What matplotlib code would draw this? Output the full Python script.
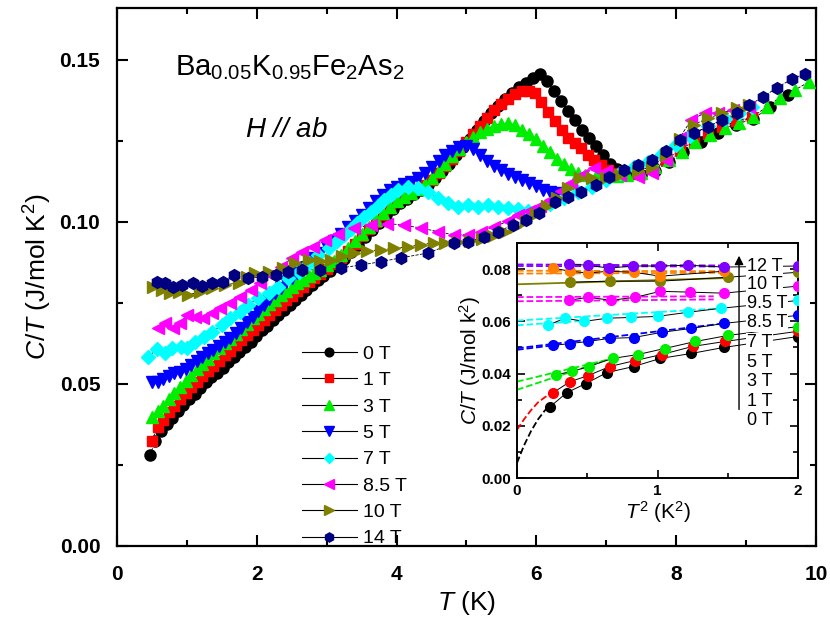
import matplotlib
matplotlib.use("Agg")
import matplotlib.pyplot as plt
from matplotlib.lines import Line2D
from matplotlib.ticker import MultipleLocator

plt.rcParams['font.family'] = ['Liberation Sans', 'DejaVu Sans']
plt.rcParams['mathtext.fontset'] = 'custom'
plt.rcParams['mathtext.rm'] = 'Liberation Sans'
plt.rcParams['mathtext.it'] = 'Liberation Sans:italic'
plt.rcParams['mathtext.bf'] = 'Liberation Sans:bold'

# ---------------- main panel data (T in K, C/T in J/mol K^2) ----------------
T_0 = [0.47,0.55,0.63,0.71,0.79,0.87,0.95,1.03,1.11,1.19,1.27,1.35,1.43,1.51,1.59,1.67,1.75,1.83,1.91,1.99,
       2.07,2.15,2.23,2.31,2.39,2.47,2.55,2.63,2.71,2.79,2.87,2.95,3.05,3.15,3.25,3.35,3.45,3.55,3.65,3.75,
       3.85,3.95,4.05,4.15,4.25,4.35,4.45,4.55,4.65,4.75,4.85,4.95,5.05,5.15,5.25,5.35,5.45,5.55,5.65,5.75,
       5.85,5.95,6.05,6.15,6.25,6.35,6.45,6.55,6.65,6.75,6.85,6.95,7.05,7.15,7.3,7.5,7.7,7.9,8.1,8.35,
       8.6,8.85,9.1,9.35,9.6]
C_0 = [0.028,0.0325,0.0355,0.0375,0.0395,0.0415,0.0435,0.0455,0.047,0.0488,0.0505,0.052,0.0535,0.055,0.0567,0.0583,0.0598,0.0614,0.063,0.0648,
       0.0665,0.068,0.0696,0.0712,0.0728,0.0744,0.076,0.0775,0.079,0.0805,0.082,0.0833,0.0848,0.0865,0.0885,0.0907,0.093,0.0952,0.0975,0.0998,
       0.102,0.104,0.1058,0.1072,0.1085,0.1098,0.1115,0.1135,0.1156,0.118,0.1205,0.123,0.1255,0.1283,0.131,0.1335,0.1358,0.1378,0.1397,0.1415,
       0.143,0.1443,0.1457,0.1435,0.1403,0.1372,0.1342,0.1313,0.1284,0.1258,0.1234,0.1205,0.118,0.1162,0.1148,0.1145,0.1158,0.1185,0.1215,0.1245,
       0.1275,0.130,0.1318,0.1355,0.139]

T_1 = [0.5,0.58,0.66,0.74,0.82,0.9,0.98,1.06,1.14,1.22,1.3,1.38,1.46,1.54,1.62,1.7,1.78,1.86,1.94,2.02,
       2.1,2.18,2.26,2.34,2.42,2.5,2.58,2.66,2.74,2.82,2.9,3.0,3.1,3.2,3.3,3.4,3.5,3.6,3.7,3.8,
       3.9,4.0,4.1,4.2,4.3,4.4,4.5,4.6,4.7,4.8,4.9,5.0,5.1,5.2,5.3,5.4,5.5,5.6,5.7,5.8,
       5.9,5.98,6.07,6.17,6.26,6.36,6.45,6.55,6.64,6.74,6.83,6.93,7.03,7.12,7.25,7.45,7.65,7.85,8.05,8.25,
       8.45,8.65,8.85,9.08]
C_1 = [0.0325,0.0368,0.039,0.0412,0.0432,0.0452,0.0472,0.049,0.0507,0.0524,0.054,0.0556,0.0572,0.0588,0.0603,0.0619,0.0635,0.065,0.0666,0.0682,
       0.0698,0.0713,0.0728,0.0743,0.0758,0.0772,0.0786,0.080,0.0814,0.0827,0.084,0.0855,0.087,0.089,0.091,0.0932,0.0955,0.0978,0.100,0.1022,
       0.1042,0.106,0.1074,0.1087,0.110,0.1113,0.113,0.115,0.1172,0.1195,0.122,0.1245,0.127,0.1297,0.1322,0.1345,0.1365,0.138,0.1395,0.1403,
       0.1405,0.1398,0.137,0.134,0.131,0.1284,0.126,0.1244,0.1228,0.1207,0.119,0.1176,0.116,0.115,0.1146,0.1148,0.1165,0.119,0.1222,0.1248,
       0.127,0.1292,0.131,0.1324]

T_3 = [0.5,0.58,0.66,0.74,0.82,0.9,0.98,1.06,1.14,1.22,1.3,1.38,1.46,1.54,1.62,1.7,1.78,1.86,1.94,2.02,
       2.1,2.18,2.26,2.34,2.42,2.5,2.58,2.66,2.74,2.82,2.9,3.0,3.1,3.2,3.3,3.4,3.5,3.6,3.7,3.8,
       3.9,4.0,4.1,4.2,4.3,4.4,4.5,4.6,4.7,4.8,4.9,5.0,5.1,5.2,5.3,5.4,5.5,5.6,5.7,5.8,
       5.9,6.0,6.1,6.2,6.3,6.4,6.5,6.6,6.7,6.85,7.0,7.15,7.3,7.5,7.7,7.9,8.08,8.27,8.48,8.7,
       8.9,9.1,9.3,9.48,9.7,9.9]
C_3 = [0.0398,0.0415,0.0432,0.0452,0.0472,0.0492,0.051,0.0528,0.0545,0.0562,0.0578,0.0594,0.061,0.0625,0.064,0.0655,0.067,0.0686,0.0702,0.0717,
       0.0732,0.0746,0.076,0.0773,0.0786,0.0798,0.081,0.0822,0.0833,0.0843,0.0853,0.0866,0.088,0.0898,0.0918,0.094,0.0962,0.0985,0.1007,0.1028,
       0.1047,0.1063,0.1077,0.109,0.1103,0.1118,0.1136,0.1157,0.118,0.1203,0.1225,0.1245,0.1262,0.1276,0.1288,0.1297,0.1303,0.1306,0.1298,0.1285,
       0.127,0.1255,0.1235,0.1215,0.1195,0.1178,0.1163,0.1152,0.1145,0.1142,0.1142,0.1143,0.1145,0.1152,0.1168,0.119,0.1216,0.1245,0.1268,0.129,
       0.1306,0.1325,0.1355,0.1383,0.1407,0.1432]

T_5 = [0.5,0.58,0.66,0.74,0.82,0.9,0.98,1.06,1.14,1.22,1.3,1.38,1.46,1.54,1.62,1.7,1.78,1.86,1.94,2.02,
       2.1,2.18,2.26,2.34,2.42,2.5,2.58,2.66,2.74,2.82,2.9,3.0,3.1,3.2,3.3,3.4,3.5,3.6,3.7,3.8,
       3.9,4.0,4.1,4.2,4.3,4.4,4.5,4.6,4.7,4.8,4.9,5.0,5.1,5.2,5.3,5.4,5.5,5.6,5.7,5.8,
       5.9,6.0,6.1,6.2,6.3]
C_5 = [0.0506,0.0506,0.0515,0.0526,0.0534,0.0537,0.0547,0.0558,0.057,0.0582,0.0594,0.0606,0.0618,0.063,0.0643,0.0658,0.0673,0.069,0.0707,0.0725,
       0.0744,0.0762,0.078,0.0797,0.0813,0.0828,0.0843,0.0858,0.0873,0.0888,0.0904,0.0922,0.094,0.0962,0.0983,0.1003,0.1022,0.1042,0.1063,0.1082,
       0.1098,0.1108,0.1116,0.1124,0.1135,0.115,0.1168,0.1187,0.1205,0.122,0.123,0.1235,0.1225,0.1205,0.1188,0.1173,0.116,0.1148,0.1138,0.1128,
       0.112,0.111,0.1098,0.1092,0.109]

T_7 = [0.45,0.57,0.69,0.79,0.91,1.0,1.12,1.24,1.36,1.5,1.62,1.76,1.88,2.02,2.17,2.31,2.45,2.6,2.74,2.88,
       3.03,3.15,3.25,3.35,3.44,3.54,3.63,3.73,3.82,3.92,4.02,4.16,4.3,4.45,4.59,4.73,4.88,5.02,5.16,5.31,
       5.45,5.6,5.74,5.88,6.02,6.2,6.4,6.6,6.8,7.0,7.2,7.4,7.6,7.8,8.0,8.2,8.45,8.7,8.9,9.08]
C_7 = [0.0583,0.0608,0.0596,0.061,0.0615,0.061,0.063,0.0645,0.066,0.0682,0.0703,0.0722,0.0744,0.0765,0.078,0.080,0.0827,0.0846,0.0873,0.0898,
       0.092,0.0942,0.096,0.0978,0.0997,0.1014,0.1031,0.105,0.1068,0.1084,0.1099,0.1108,0.1105,0.1093,0.1074,0.1059,0.1046,0.1052,0.1046,0.1052,
       0.1046,0.1043,0.104,0.1033,0.1035,0.1055,0.1075,0.1093,0.1108,0.1128,0.115,0.1168,0.1185,0.121,0.1238,0.1265,0.1295,0.1318,0.1335,0.1355]

T_85 = [0.59,0.69,0.8,0.9,1.0,1.12,1.23,1.36,1.48,1.62,1.76,1.91,2.05,2.2,2.34,2.51,2.65,2.81,2.98,3.16,
        3.39,3.63,3.87,4.1,4.35,4.59,4.82,5.02,5.21,5.4,5.6,5.74,5.9,6.05,6.2,6.35,6.5,6.65,6.83,7.0,
        7.2,7.45,7.65,7.85,8.05,8.22,8.41,8.6,8.82,9.05]
C_85 = [0.0673,0.0688,0.0673,0.0688,0.0713,0.0707,0.0704,0.0719,0.0735,0.075,0.0769,0.079,0.0812,0.0836,0.0861,0.0889,0.0907,0.0923,0.0944,0.0963,
        0.098,0.099,0.0995,0.099,0.0981,0.097,0.096,0.096,0.097,0.0985,0.1003,0.102,0.1035,0.1048,0.1068,0.1095,0.112,0.1145,0.1165,0.1158,
        0.1145,0.1138,0.115,0.119,0.126,0.1315,0.1336,0.1336,0.1345,0.1355]

T_10 = [0.52,0.64,0.76,0.88,1.02,1.19,1.36,1.55,1.74,1.86,1.98,2.17,2.37,2.55,2.74,2.9,3.06,3.22,3.39,3.58,
        3.77,3.97,4.16,4.35,4.53,4.7,4.88,5.05,5.22,5.38,5.55,5.7,5.85,6.0,6.15,6.3,6.45,6.62,6.8,7.0,
        7.2,7.45,7.65,7.85,8.05,8.25,8.46,8.66,8.87,9.05]
C_10 = [0.080,0.079,0.078,0.0784,0.0775,0.0784,0.0796,0.0806,0.0812,0.083,0.0842,0.0846,0.0858,0.0873,0.0883,0.088,0.0883,0.0895,0.0904,0.091,
        0.0914,0.0918,0.0923,0.093,0.0935,0.0935,0.0937,0.094,0.0947,0.0955,0.0968,0.0985,0.1003,0.1025,0.1048,0.1075,0.1105,0.1136,0.1136,0.1135,
        0.1145,0.1158,0.117,0.1205,0.1255,0.130,0.132,0.1335,0.135,0.136]

T_14 = [0.57,0.69,0.8,0.93,1.09,1.22,1.36,1.51,1.67,1.88,2.08,2.27,2.45,2.65,2.91,3.2,3.49,3.77,4.06,4.45,
        4.82,5.02,5.25,5.45,5.66,5.85,6.04,6.26,6.45,6.64,6.86,7.04,7.26,7.46,7.65,7.86,8.05,8.25,8.46,8.65,
        8.87,9.05,9.25,9.44,9.66,9.84]
C_14 = [0.0815,0.0812,0.080,0.0806,0.0812,0.0803,0.0812,0.0815,0.0836,0.0827,0.083,0.0836,0.0846,0.0852,0.0852,0.0858,0.0867,0.0877,0.0889,0.0904,
        0.0935,0.0938,0.0954,0.097,0.099,0.1006,0.1028,0.106,0.1077,0.1093,0.1114,0.1139,0.116,0.1176,0.119,0.122,0.1253,0.1275,0.1293,0.1315,
        0.1336,0.1361,0.1386,0.1414,0.1441,0.1457]

labels_main = ['0 T', '1 T', '3 T', '5 T', '7 T', '8.5 T', '10 T', '14 T']
colors_main = ['black', '#ff0000', '#00ee00', '#0000ff', '#00ffff', '#ff00ff', '#808000', '#000080']
markers_main = ['o', 's', '^', 'v', 'D', '<', '>', 'h']
msizes_main = [8, 7.5, 8.5, 8.5, 7, 8.5, 8.5, 8.5]
T_main = [T_0, T_1, T_3, T_5, T_7, T_85, T_10, T_14]
C_main = [C_0, C_1, C_3, C_5, C_7, C_85, C_10, C_14]

# ---------------- inset data (x = T^2 in K^2) ----------------
x_i0 = [0.235,0.355,0.49,0.64,0.83,1.02,1.24,1.47,2.0]
y_i0 = [0.0273,0.0327,0.0362,0.0404,0.0427,0.0458,0.0477,0.050,0.0542]
x_i1 = [0.257,0.377,0.505,0.66,0.84,1.03,1.25,1.48,2.0]
y_i1 = [0.0327,0.0369,0.0392,0.0427,0.045,0.0473,0.0504,0.0523,0.0562]
x_i3 = [0.28,0.39,0.51,0.68,0.86,1.05,1.27,1.5,2.0]
y_i3 = [0.0396,0.0408,0.0427,0.0458,0.0473,0.0496,0.0523,0.0546,0.058]
x_i5 = [0.257,0.377,0.505,0.66,0.83,1.03,1.24,1.47,2.0]
y_i5 = [0.0508,0.0515,0.0523,0.0535,0.0538,0.0558,0.0573,0.0592,0.0623]
x_i7 = [0.22,0.34,0.48,0.64,0.81,1.0,1.22,1.45,2.0]
y_i7 = [0.0585,0.0612,0.060,0.0612,0.0615,0.0619,0.0635,0.065,0.068]
x_i85 = [0.37,0.505,0.67,0.84,1.02,1.23,1.47,2.0]
y_i85 = [0.0681,0.0692,0.0681,0.0692,0.0715,0.0712,0.0708,0.0735]
x_i95 = [0.377,0.66,1.02,1.5,2.0]
y_i95 = [0.075,0.0754,0.0754,0.0769,0.0788]
x_i10 = [0.257,0.377,0.505,0.65,0.83,1.02,1.47]
y_i10 = [0.0804,0.0792,0.0785,0.0792,0.0788,0.0773,0.0792]
x_i12 = [0.37,0.505,0.655,0.825,1.02,1.22,1.47,2.0]
y_i12 = [0.0819,0.0815,0.0804,0.0812,0.0812,0.0815,0.0808,0.0812]

colors_in = ['black', '#ff0000', '#00ee00', '#0000ff', '#00ffff', '#ff00ff', '#808000', '#ff8000', '#8000ff']
x_in = [x_i0, x_i1, x_i3, x_i5, x_i7, x_i85, x_i95, x_i10, x_i12]
y_in = [y_i0, y_i1, y_i3, y_i5, y_i7, y_i85, y_i95, y_i10, y_i12]

# low-temperature fits drawn in the inset (colour index, x, y, style)
fit_x_0 = [0.0,0.05,0.1,0.15,0.2,0.235]
fit_y_0 = [0.0058,0.0125,0.018,0.0225,0.026,0.0273]
fit_x_1 = [0.0,0.05,0.1,0.15,0.2,0.257]
fit_y_1 = [0.0185,0.0225,0.026,0.029,0.031,0.0327]
fits = [
    (0, fit_x_0, fit_y_0, '--'),
    (1, fit_x_1, fit_y_1, '--'),
    (2, [0.0, 0.68], [0.0369, 0.0458], '--'),
    (2, [0.0, 0.6], [0.0338, 0.0445], '--'),
    (3, [0.0, 1.47], [0.0497, 0.0592], '--'),
    (3, [0.0, 0.3], [0.0491, 0.0511], '--'),
    (4, [0.0, 1.45], [0.0603, 0.065], '--'),
    (4, [0.0, 0.5], [0.0585, 0.0603], '--'),
    (5, [0.0, 1.4], [0.0693, 0.0696], '--'),
    (5, [0.0, 1.4], [0.0677, 0.0684], '--'),
    (6, [0.0, 1.5], [0.0742, 0.0766], '-'),
    (7, [0.0, 1.45], [0.0794, 0.0792], '--'),
    (7, [0.0, 1.45], [0.0783, 0.0786], '--'),
    (8, [0.0, 1.45], [0.0818, 0.0814], '--'),
    (8, [0.0, 1.45], [0.0812, 0.0810], '--'),
]

inset_labels = ['12 T', '10 T', '9.5 T', '8.5 T', '7 T', '5 T', '3 T', '1 T', '0 T']
inset_label_y = [0.081, 0.0742, 0.0669, 0.0596, 0.0519, 0.0442, 0.0369, 0.0292, 0.0219]

# ---------------- figure ----------------
fig = plt.figure(figsize=(8.3, 6.23), dpi=100)
ax = fig.add_axes([0.141, 0.1236, 0.842, 0.8636])

handles = []
for T, C, lab, col, mk, ms in zip(T_main, C_main, labels_main, colors_main, markers_main, msizes_main):
    ax.plot(T, C, color='black', lw=0.6, ls='--', zorder=2)
    ax.plot(T, C, ls='none', marker=mk, ms=ms, mfc=col, mec=col, zorder=3)
    handles.append(Line2D([], [], color='black', lw=0.8, marker=mk, ms=ms * 0.78,
                          mfc=col, mec=col, label=lab))

ax.set_xlim(0, 10)
ax.set_ylim(0, 0.166)
ax.xaxis.set_major_locator(MultipleLocator(2))
ax.xaxis.set_minor_locator(MultipleLocator(1))
ax.yaxis.set_major_locator(MultipleLocator(0.05))
ax.yaxis.set_minor_locator(MultipleLocator(0.025))
ax.set_yticks([0.0, 0.05, 0.10, 0.15])
ax.set_yticklabels(['0.00', '0.05', '0.10', '0.15'])
ax.tick_params(which='both', direction='in', top=True, right=True, width=1.5)
ax.tick_params(which='major', length=8, labelsize=15)
ax.tick_params(axis='x', which='major', pad=14)
ax.tick_params(axis='y', which='major', pad=12)
ax.tick_params(which='minor', length=4.5)
for lb in ax.get_xticklabels() + ax.get_yticklabels():
    lb.set_fontweight('bold')
for s in ax.spines.values():
    s.set_linewidth(1.6)

ax.set_xlabel(r'$T$ (K)', fontsize=19, labelpad=3)
ax.set_ylabel(r'$C/T$ (J/mol K$^2$)', fontsize=19, labelpad=4)

ax.text(0.083, 0.875, r'Ba$_{0.05}$K$_{0.95}$Fe$_2$As$_2$', transform=ax.transAxes,
        fontsize=21, va='baseline', ha='left')
ax.text(0.183, 0.76, r'$H$ // $ab$', transform=ax.transAxes, fontsize=20, va='baseline',
        ha='left', style='italic')

leg = ax.legend(handles=handles, loc='upper left', bbox_to_anchor=(0.265, 0.373),
                frameon=False, fontsize=14, handlelength=2.8, handletextpad=0.35,
                labelspacing=0.45, borderpad=0, borderaxespad=0)

# ---------------- inset ----------------
axi = fig.add_axes([0.6229, 0.2327, 0.3386, 0.3772])
axi.set_facecolor('white')
for k, fx, fy, st in fits:
    axi.plot(fx, fy, color=colors_in[k], ls=st, lw=1.3, zorder=2)
for xs, ys, col in zip(x_in, y_in, colors_in):
    axi.plot(xs, ys, color='black', lw=0.7, zorder=3)
    axi.plot(xs, ys, ls='none', marker='o', ms=7, mfc=col, mec=col, zorder=4)

axi.set_xlim(0, 2)
axi.set_ylim(0, 0.09)
axi.xaxis.set_major_locator(MultipleLocator(1))
axi.xaxis.set_minor_locator(MultipleLocator(0.5))
axi.set_yticks([0.0, 0.02, 0.04, 0.06, 0.08])
axi.set_yticklabels(['0.00', '0.02', '0.04', '0.06', '0.08'])
axi.yaxis.set_minor_locator(MultipleLocator(0.01))
axi.tick_params(which='both', direction='in', top=True, right=True, width=1.2)
axi.tick_params(which='major', length=6, labelsize=11, pad=4)
axi.tick_params(which='minor', length=3.5)
for lb in axi.get_xticklabels() + axi.get_yticklabels():
    lb.set_fontweight('bold')
for s in axi.spines.values():
    s.set_linewidth(1.4)
axi.set_xlabel(r'$T^2$ (K$^2$)', fontsize=15, labelpad=1)
axi.set_ylabel(r'$C/T$ (J/mol k$^2$)', fontsize=15, labelpad=-1)

for lab, yy in zip(inset_labels, inset_label_y):
    axi.text(1.635, yy, lab, fontsize=13, va='center', ha='left', zorder=6,
             bbox=dict(facecolor='white', edgecolor='none', pad=0.5))
axi.annotate('', xy=(1.58, 0.0862), xytext=(1.58, 0.0252),
             arrowprops=dict(arrowstyle='-|>', color='black', lw=1.0, mutation_scale=13),
             zorder=7)

fig.savefig('out.png', dpi=100)
